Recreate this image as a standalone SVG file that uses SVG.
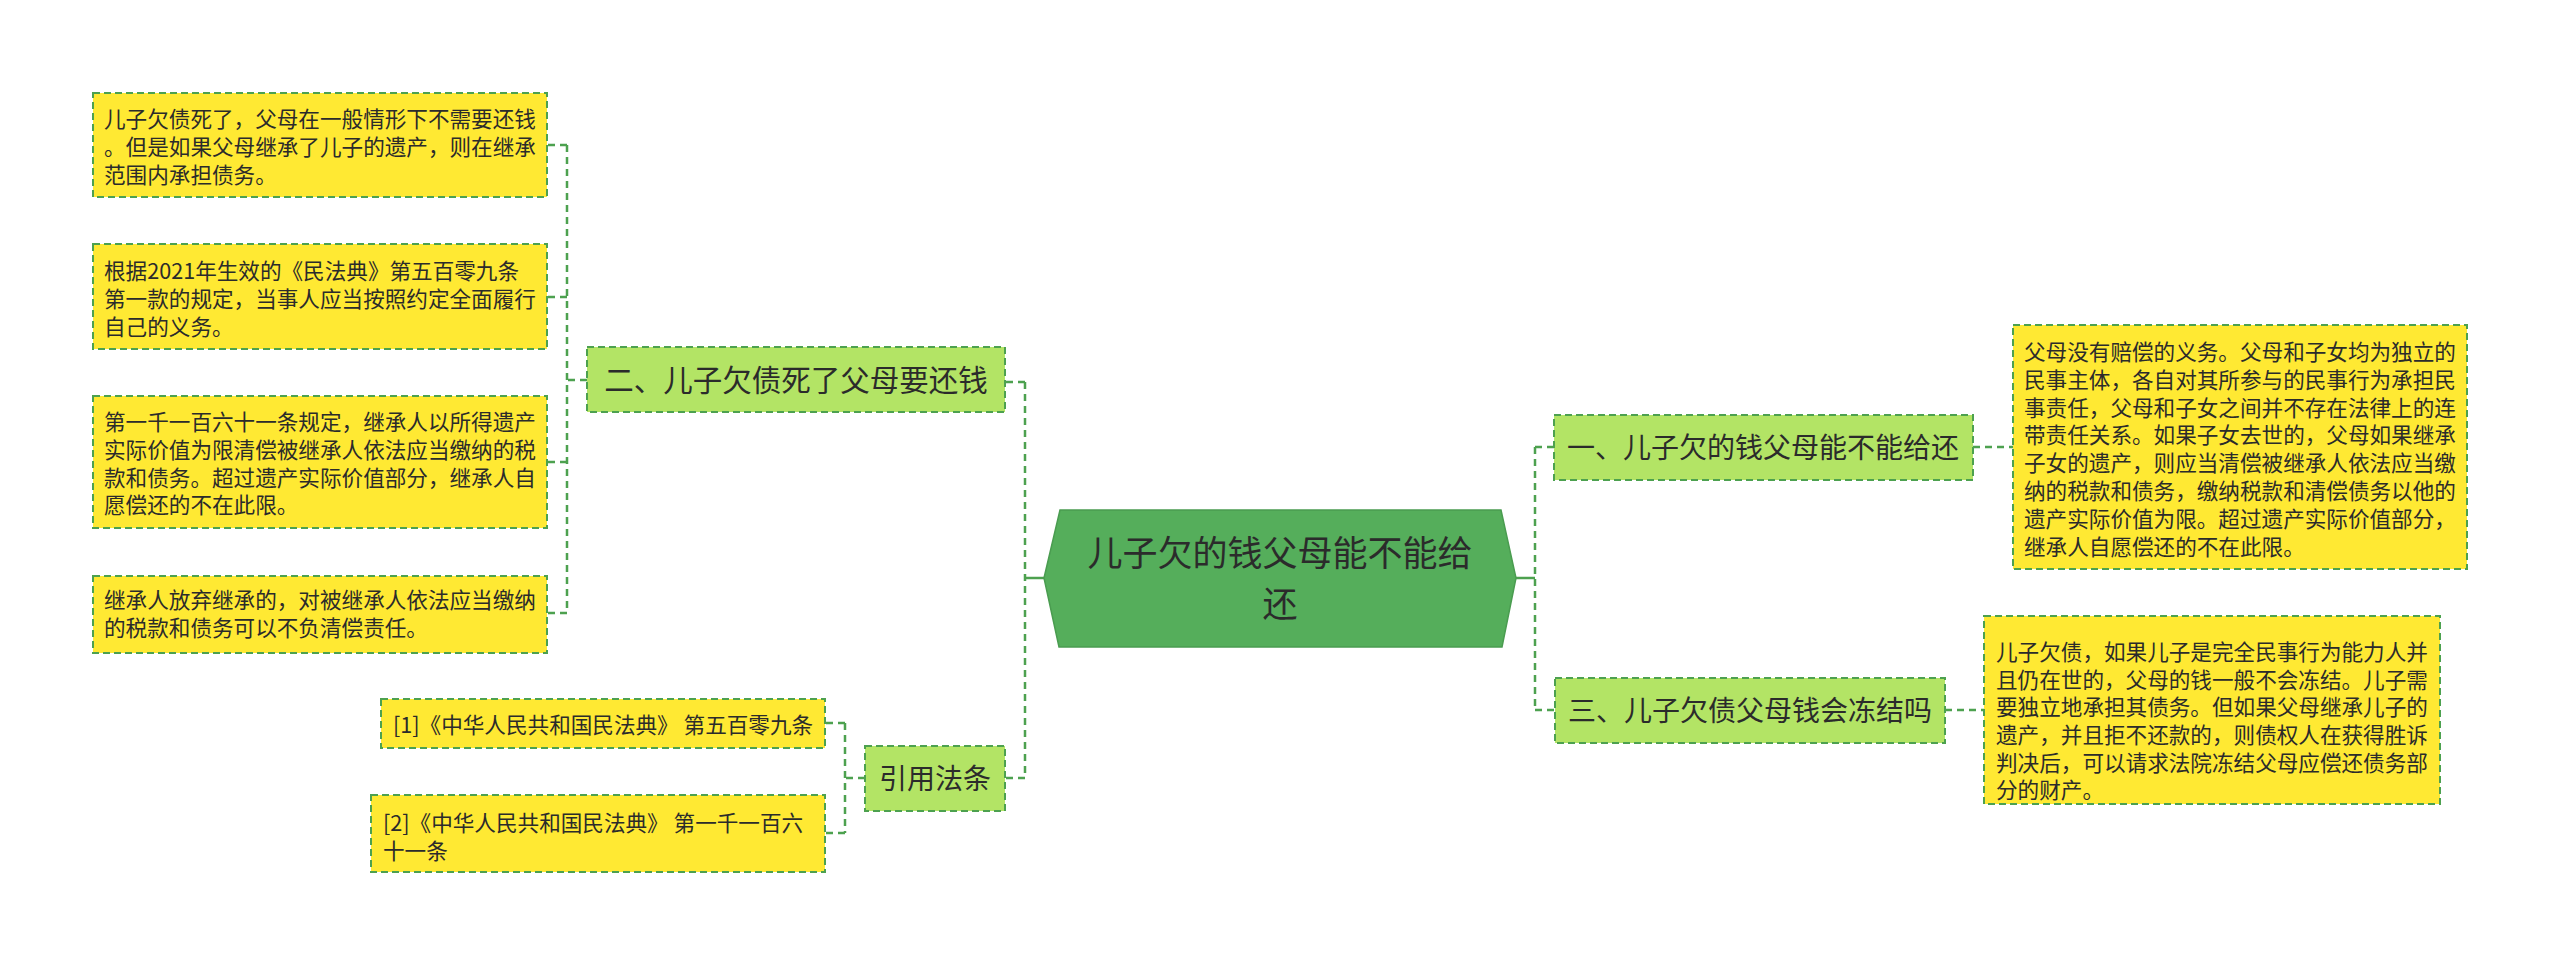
<svg xmlns="http://www.w3.org/2000/svg" width="2560" height="965" viewBox="0 0 2560 965">
<style>
.leaf{fill:#FFE933;stroke:#4DA14F;stroke-width:2;stroke-dasharray:7 4}
.branch{fill:#B3E465;stroke:#4DA14F;stroke-width:2;stroke-dasharray:7 4}
.lt{font-family:"Noto Sans CJK SC","Noto Sans",sans-serif;font-size:21.6px;fill:#2b2b2b}
.bt{font-family:"Noto Sans CJK SC","Noto Sans",sans-serif;font-size:28px;fill:#2b2b2b;text-anchor:middle}
.ct{font-family:"Noto Sans CJK SC","Noto Sans",sans-serif;font-size:35px;fill:#2b2b2b;text-anchor:middle}
.dash{fill:none;stroke:#4DA14F;stroke-width:2.5;stroke-dasharray:7 5}
.solid{fill:none;stroke:#4DA14F;stroke-width:2.5}
</style>
<rect width="2560" height="965" fill="#ffffff"/>
<g id="connectors">
<path class="solid" d="M1044 578 H1025"/>
<path class="dash" d="M1025 382 V778"/>
<path class="dash" d="M1025 382 H1005 M1025 778 H1005"/>
<path class="dash" d="M587 380 H567 M567 145 V613 M567 145 H547 M567 297 H547 M567 462 H547 M567 613 H547"/>
<path class="dash" d="M865 778 H845 M845 723 V833 M845 723 H825 M845 833 H825"/>
<path class="solid" d="M1516 578 H1535"/>
<path class="dash" d="M1535 447 V710 M1535 447 H1554 M1535 710 H1555"/>
<path class="dash" d="M1973 447 H2013 M1945 710 H1984"/>
</g>
<g id="center">
<polygon points="1044,578 1060,510 1501,510 1516,578 1502,647 1059,647" fill="#55AE5B" stroke="#4A9C50" stroke-width="1.5"/>
<text class="ct" x="1280" y="566">儿子欠的钱父母能不能给</text>
<text class="ct" x="1280" y="617">还</text>
</g>
<g id="n2">
<rect class="branch" x="587" y="347" width="418" height="65"/>
<text class="bt" x="796" y="391" style="font-size:29.5px">二、儿子欠债死了父母要还钱</text>
</g>
<g id="n2a">
<rect class="leaf" x="93" y="93" width="454" height="104"/>
<text class="lt" x="104" y="127">儿子欠债死了，父母在一般情形下不需要还钱</text>
<text class="lt" x="104" y="155">。但是如果父母继承了儿子的遗产，则在继承</text>
<text class="lt" x="104" y="183">范围内承担债务。</text>
</g>
<g id="n2b">
<rect class="leaf" x="93" y="244" width="454" height="105"/>
<text class="lt" x="104" y="279">根据2021年生效的《民法典》第五百零九条</text>
<text class="lt" x="104" y="307">第一款的规定，当事人应当按照约定全面履行</text>
<text class="lt" x="104" y="335">自己的义务。</text>
</g>
<g id="n2c">
<rect class="leaf" x="93" y="396" width="454" height="132"/>
<text class="lt" x="104" y="430">第一千一百六十一条规定，继承人以所得遗产</text>
<text class="lt" x="104" y="458">实际价值为限清偿被继承人依法应当缴纳的税</text>
<text class="lt" x="104" y="486">款和债务。超过遗产实际价值部分，继承人自</text>
<text class="lt" x="104" y="513">愿偿还的不在此限。</text>
</g>
<g id="n2d">
<rect class="leaf" x="93" y="576" width="454" height="77"/>
<text class="lt" x="104" y="608">继承人放弃继承的，对被继承人依法应当缴纳</text>
<text class="lt" x="104" y="636">的税款和债务可以不负清偿责任。</text>
</g>
<g id="n4">
<rect class="branch" x="865" y="746" width="140" height="65"/>
<text class="bt" x="935" y="789">引用法条</text>
</g>
<g id="n4a">
<rect class="leaf" x="381" y="699" width="444" height="49"/>
<text class="lt" x="393" y="733">[1]《中华人民共和国民法典》 第五百零九条</text>
</g>
<g id="n4b">
<rect class="leaf" x="371" y="795" width="454" height="77"/>
<text class="lt" x="383" y="831">[2]《中华人民共和国民法典》 第一千一百六</text>
<text class="lt" x="383" y="859">十一条</text>
</g>
<g id="n1">
<rect class="branch" x="1554" y="415" width="419" height="65"/>
<text class="bt" x="1763" y="458">一、儿子欠的钱父母能不能给还</text>
</g>
<g id="n1a">
<rect class="leaf" x="2013" y="325" width="454" height="244"/>
<text class="lt" x="2024" y="360">父母没有赔偿的义务。父母和子女均为独立的</text>
<text class="lt" x="2024" y="388">民事主体，各自对其所参与的民事行为承担民</text>
<text class="lt" x="2024" y="416">事责任，父母和子女之间并不存在法律上的连</text>
<text class="lt" x="2024" y="443">带责任关系。如果子女去世的，父母如果继承</text>
<text class="lt" x="2024" y="471">子女的遗产，则应当清偿被继承人依法应当缴</text>
<text class="lt" x="2024" y="499">纳的税款和债务，缴纳税款和清偿债务以他的</text>
<text class="lt" x="2024" y="527">遗产实际价值为限。超过遗产实际价值部分，</text>
<text class="lt" x="2024" y="555">继承人自愿偿还的不在此限。</text>
</g>
<g id="n3">
<rect class="branch" x="1555" y="678" width="390" height="65"/>
<text class="bt" x="1750" y="721">三、儿子欠债父母钱会冻结吗</text>
</g>
<g id="n3a">
<rect class="leaf" x="1984" y="616" width="456" height="188"/>
<text class="lt" x="1996" y="660">儿子欠债，如果儿子是完全民事行为能力人并</text>
<text class="lt" x="1996" y="688">且仍在世的，父母的钱一般不会冻结。儿子需</text>
<text class="lt" x="1996" y="715">要独立地承担其债务。但如果父母继承儿子的</text>
<text class="lt" x="1996" y="743">遗产，并且拒不还款的，则债权人在获得胜诉</text>
<text class="lt" x="1996" y="771">判决后，可以请求法院冻结父母应偿还债务部</text>
<text class="lt" x="1996" y="798">分的财产。</text>
</g>
</svg>
